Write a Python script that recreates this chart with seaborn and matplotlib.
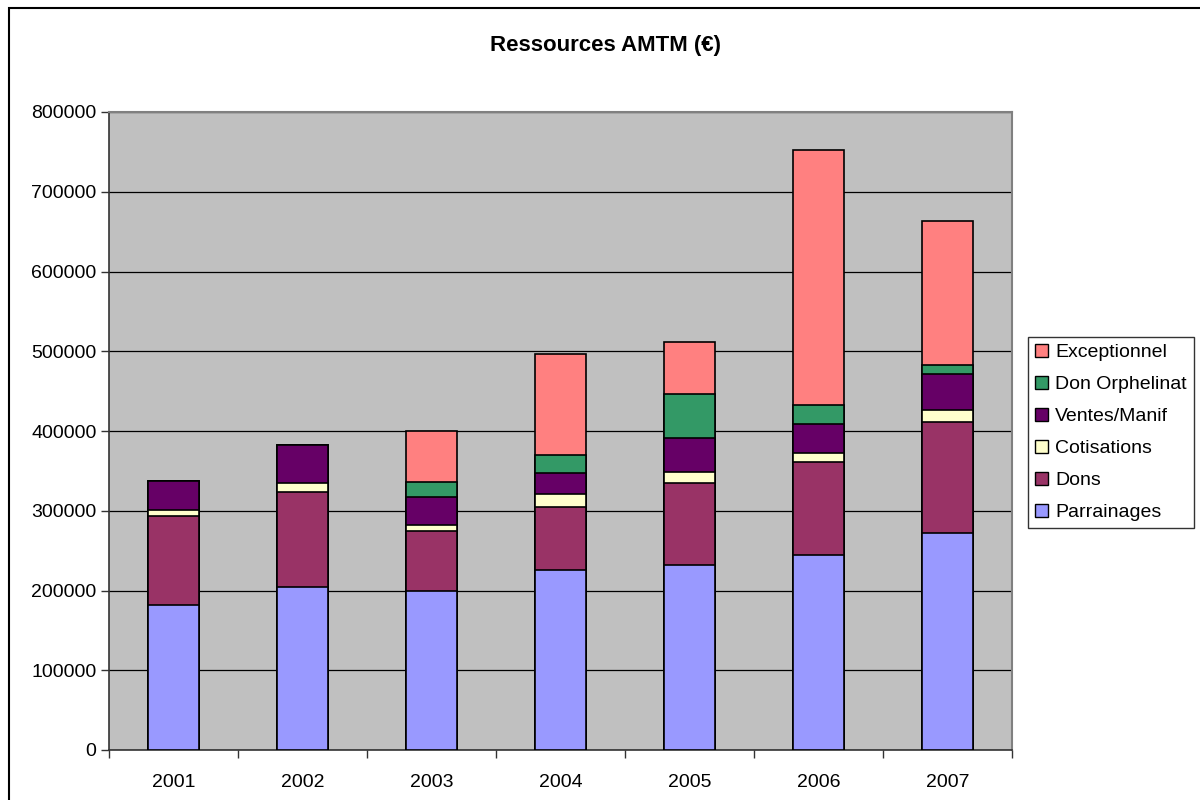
import pandas as pd
import numpy as np
import matplotlib.pyplot as plt
import matplotlib.patches as mpatches
import seaborn as sns

# --- data (EUR) ---
years = ['2001', '2002', '2003', '2004', '2005', '2006', '2007']
parrainages = [182000, 204000, 199000, 225700, 232400, 245000, 272200]
dons = [112000, 120000, 75000, 78700, 102600, 116400, 139400]
cotisations = [7000, 10500, 8600, 16000, 13800, 10800, 14600]
ventes_manif = [36000, 47500, 34500, 27000, 42000, 36000, 45000]
don_orphelinat = [0, 0, 19500, 23000, 55300, 25000, 11400]
exceptionnel = [0, 0, 63000, 125600, 65000, 319500, 181300]

series = ['Parrainages', 'Dons', 'Cotisations', 'Ventes/Manif', 'Don Orphelinat', 'Exceptionnel']
colors = ['#9999FF', '#993366', '#FFFFCC', '#660066', '#339966', '#FF8080']

df = pd.DataFrame({
    'Year': years,
    'Parrainages': parrainages,
    'Dons': dons,
    'Cotisations': cotisations,
    'Ventes/Manif': ventes_manif,
    'Don Orphelinat': don_orphelinat,
    'Exceptionnel': exceptionnel,
})
# cumulative totals for stacking
cum = df[series].cumsum(axis=1)
cum['Year'] = df['Year']

sns.set_style('white')
plt.rcParams['font.family'] = ['Liberation Sans', 'DejaVu Sans']
plt.rcParams['text.color'] = 'black'
plt.rcParams['xtick.color'] = 'black'
plt.rcParams['ytick.color'] = 'black'

fig = plt.figure(figsize=(12, 8), dpi=100)
ax = fig.add_axes([109 / 1200, 50 / 800, (1012 - 109) / 1200, (750 - 112) / 800])
ax.set_facecolor('#C0C0C0')

# draw tallest cumulative first so lower segments sit on top
for name, col in reversed(list(zip(series, colors))):
    sns.barplot(data=cum, x='Year', y=name, color=col, width=0.4,
                edgecolor='black', linewidth=1.2, saturation=1, ax=ax, zorder=3)

ax.set_ylim(0, 800000)
ax.set_xlim(-0.5, len(years) - 0.5)
ax.set_yticks(np.arange(0, 800001, 100000))
ax.yaxis.grid(True, color='black', linewidth=0.9, zorder=0)
ax.set_axisbelow(True)
ax.set_xlabel('')
ax.set_ylabel('')

# ticks at category boundaries like the original
ax.set_xticks(np.arange(-0.5, len(years), 1.0), minor=True)
ax.tick_params(axis='x', which='major', length=0, labelsize=14, pad=17)
ax.tick_params(axis='x', which='minor', length=6, width=1, color='#333333', direction='out')
ax.tick_params(axis='y', length=6, width=1, color='#333333', direction='out', labelsize=14, pad=3)
ax.tick_params(axis='both', left=True, bottom=True, which='both')

for s in ['top', 'right']:
    ax.spines[s].set_color('#808080')
    ax.spines[s].set_linewidth(1.5)
for s in ['left', 'bottom']:
    ax.spines[s].set_color('#333333')
    ax.spines[s].set_linewidth(1.2)

fig.text(606 / 1200, 1 - 45 / 800, 'Ressources AMTM (€)', ha='center', va='center',
         fontsize=16, fontweight='bold', color='black')

handles = [mpatches.Patch(facecolor=c, edgecolor='black', linewidth=1, label=n)
           for n, c in zip(series, colors)]
handles = handles[::-1]
leg = fig.legend(handles=handles, loc='upper left', bbox_to_anchor=(1028 / 1200, 1 - 337 / 800),
                 fontsize=14, frameon=True, fancybox=False, edgecolor='black',
                 handlelength=0.7, handleheight=0.7, handletextpad=0.35,
                 labelspacing=0.74, borderpad=0.35, borderaxespad=0)
leg.get_frame().set_linewidth(1)

# outer chart border
fig.patches.append(mpatches.Rectangle((9 / 1200, -0.05), 1.2, 1 - 8 / 800 + 0.05,
                                      transform=fig.transFigure, fill=False,
                                      edgecolor='black', linewidth=1.5))

plt.savefig('out.png', dpi=100)
